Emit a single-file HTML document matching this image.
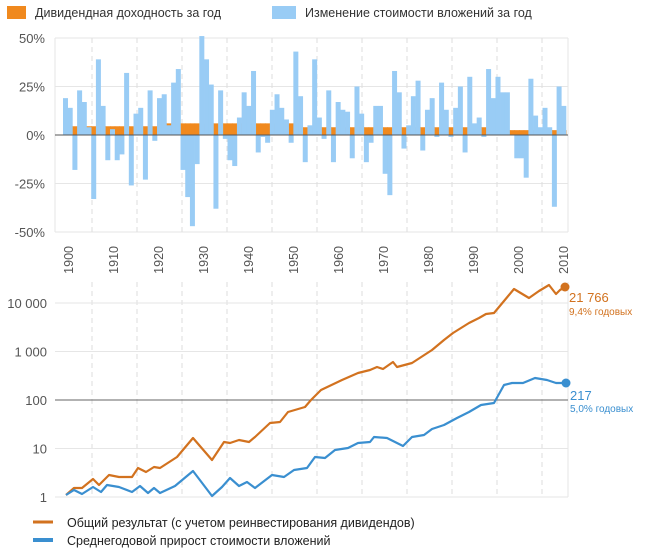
<!DOCTYPE html>
<html><head><meta charset="utf-8"><style>
body{margin:0;background:#fff;}
svg{display:block;font-family:"Liberation Sans",sans-serif;}
</style></head><body>
<svg id="s" width="645" height="552" xmlns="http://www.w3.org/2000/svg">
<rect width="645" height="552" fill="#fff"/>
<rect x="7" y="6" width="19" height="13" fill="#f0891e"/>
<text x="35" y="17" font-size="12.5" fill="#333">Дивидендная доходность за год</text>
<rect x="272" y="6" width="24" height="13" fill="#99ccf5"/>
<text x="305" y="17" font-size="12.5" fill="#333">Изменение стоимости вложений за год</text>
<g id="gtop"></g>
<g id="gbot"></g>
<line x1="33" y1="522" x2="53" y2="522" stroke="#d2721f" stroke-width="3"/>
<text x="67" y="527" font-size="12.5" fill="#222">Общий результат  (с учетом реинвестирования дивидендов)</text>
<line x1="33" y1="540" x2="53" y2="540" stroke="#3a8fd0" stroke-width="4"/>
<text x="67" y="545" font-size="12.5" fill="#222">Среднегодовой прирост стоимости вложений</text>
</svg>
<script>
(function(){
var NS="http://www.w3.org/2000/svg";
function el(p,t,a,txt){var e=document.createElementNS(NS,t);for(var k in a)e.setAttribute(k,a[k]);if(txt!==undefined)e.textContent=txt;p.appendChild(e);return e;}
var gt=document.getElementById('gtop'),gb=document.getElementById('gbot');
var L=55,R=568;
function yt(v){return 135-v*1.94;}
[50,25,-25,-50].forEach(function(v){el(gt,'line',{x1:L,x2:R,y1:yt(v),y2:yt(v),stroke:'#e6e6e6'});});
el(gt,'line',{x1:R,x2:R,y1:38,y2:232,stroke:'#e6e6e6'});
for(var i=0;i<11;i++){var x=92+i*45;
el(gt,'line',{x1:x,x2:x,y1:38,y2:232,stroke:'#ddd','stroke-dasharray':'5,4'});
el(gb,'line',{x1:x,x2:x,y1:282,y2:497,stroke:'#ddd','stroke-dasharray':'5,4'});}
el(gt,'line',{x1:L,x2:L,y1:38,y2:232,stroke:'#e6e6e6'});
[['50%',50],['25%',25],['0%',0],['-25%',-25],['-50%',-50]].forEach(function(a){el(gt,'text',{x:45,y:yt(a[1])+5,'font-size':13,'text-anchor':'end',fill:'#555'},a[0]);});
var d=[19,14,-18,23,17,4,-33,39,15,-13,3,-13,-10,32,-26,11,14,-23,23,-3,19,21,5,27,34,-18,-32,-47,-15,51,39,26,-38,23,-2,-13,-16,9,22,15,33,-9,-1,-4,13,21,14,8,-4,43,20,-14,5,39,9,-2,23,-14,17,13,12,-12,25,11,-14,-4,15,15,-20,-31,33,22,-7,5,20,28,-8,13,19,-1,27,13,-1,14,25,-9,30,6,9,-1,34,19,30,22,22,0,-12,-12,-22,29,10,4,14,4,-37,25,15];
var n=d.length,w=(R-2-63)/n;
for(var i=0;i<n;i++){var x=63+i*w;var dv=i<20?4.5:(i<50?6:(i<90?4:2.5));
el(gt,'rect',{x:x,y:yt(dv),width:w+0.6,height:dv*1.94,fill:'#f0891e'});}
for(var i=0;i<n;i++){var x=63+i*w,v=d[i];
el(gt,'rect',{x:x,y:v>0?yt(v):135,width:w+0.3,height:Math.abs(v)*1.94,fill:'#99ccf5'});}
el(gt,'line',{x1:L,x2:R,y1:135,y2:135,stroke:'#555'});
for(var i=0;i<12;i++){var x=68+i*45;var yr=1900+i*10;
el(gt,'text',{x:0,y:0,'font-size':12.5,fill:'#555','text-anchor':'end',transform:'translate('+(x+5)+',246) rotate(-90)'},String(yr));}
function yb(v){return 497-48.5*Math.log10(v);}
[10000,1000,10].forEach(function(v){el(gb,'line',{x1:L,x2:R,y1:yb(v),y2:yb(v),stroke:'#e6e6e6'});});
el(gb,'line',{x1:L,x2:R,y1:497,y2:497,stroke:'#e6e6e6'});
el(gb,'line',{x1:R,x2:R,y1:282,y2:497,stroke:'#e6e6e6'});
el(gb,'line',{x1:L,x2:R,y1:400,y2:400,stroke:'#666'});
[['10 000',10000],['1 000',1000],['100',100],['10',10],['1',1]].forEach(function(a){el(gb,'text',{x:47,y:yb(a[1])+5,'font-size':13,'text-anchor':'end',fill:'#555'},a[0]);});
var o="66,495 74,488 82,488 93,479 99,485 109,475 119,477 132,477 138,468 146,472 154,467 160,468 177,457 193,438 212,460 224,442 230,443 239,440 249,442 255,437 270,423 280,422 288,412 305,407 311,400 321,390 342,380 358,373 370,370 377,367 383,369 393,362 397,367 412,363 432,350 444,340 453,333 469,323 479,318 486,314 494,313 514,289 529,298 539,291 549,285 556,294 560,290 565,287";
var b="66,495 74,490 82,494 93,487 101,492 107,485 119,487 132,492 140,486 148,493 154,488 160,493 175,486 193,471 212,496 222,487 230,478 239,486 247,482 255,488 272,475 284,477 294,470 307,468 315,457 325,458 335,450 348,448 358,443 370,442 374,437 387,438 403,446 412,437 424,435 432,429 444,425 457,418 469,412 481,405 494,403 504,385 512,383 523,383 535,378 547,380 556,383 566,383";
el(gb,'polyline',{points:o,fill:'none',stroke:'#d2721f','stroke-width':2.2,'stroke-linejoin':'round'});
el(gb,'polyline',{points:b,fill:'none',stroke:'#3a8fd0','stroke-width':2.2,'stroke-linejoin':'round'});
el(gb,'circle',{cx:565,cy:287,r:4.5,fill:'#d2721f'});
el(gb,'circle',{cx:566,cy:383,r:4.5,fill:'#3a8fd0'});
el(gb,'text',{x:569,y:302,'font-size':13,fill:'#d2721f'},'21 766');
el(gb,'text',{x:569,y:315,'font-size':10,fill:'#d2721f'},'9,4% годовых');
el(gb,'text',{x:570,y:400,'font-size':13,fill:'#3a8fd0'},'217');
el(gb,'text',{x:570,y:412,'font-size':10,fill:'#3a8fd0'},'5,0% годовых');
})();
</script>
</body></html>
